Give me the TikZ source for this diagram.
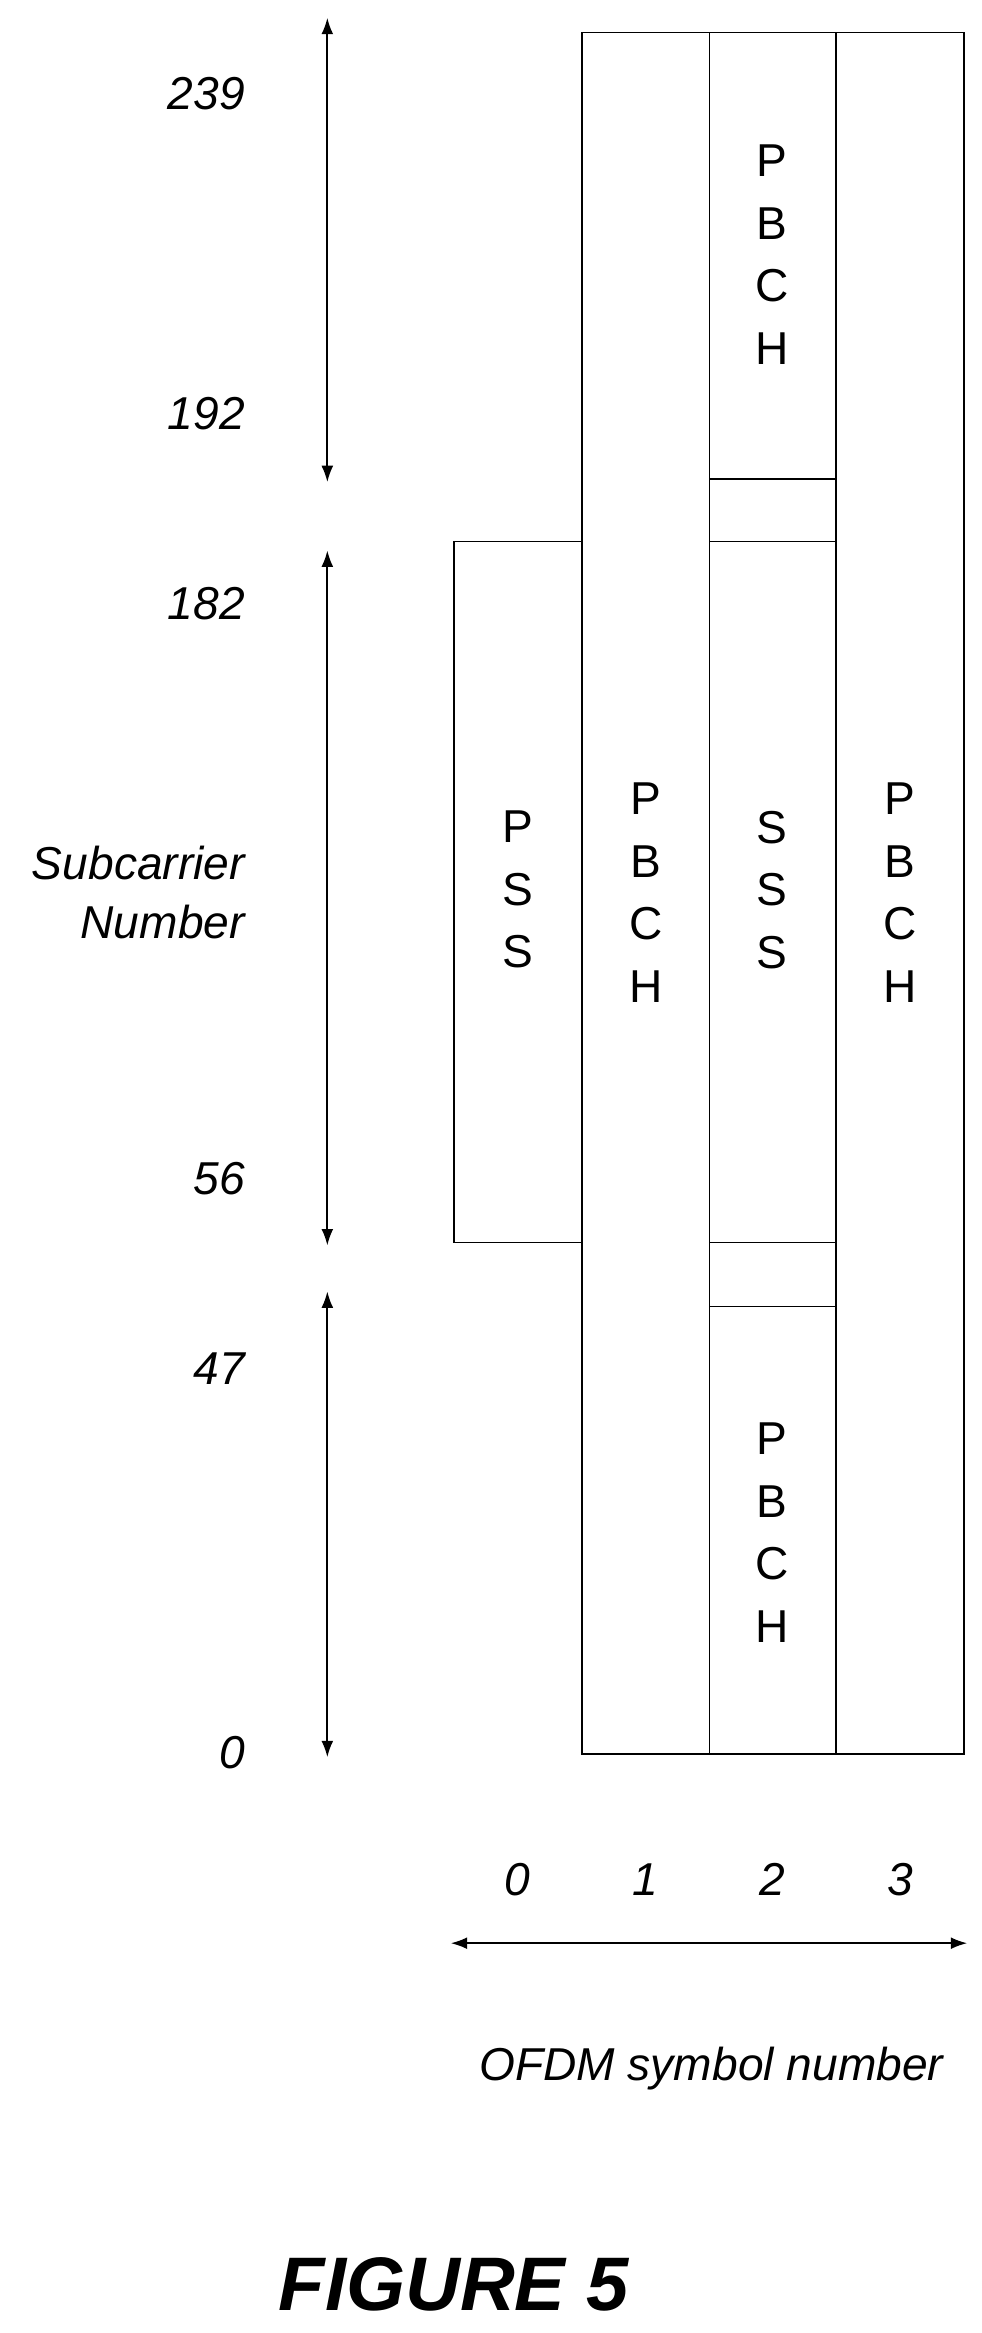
\documentclass[tikz,border=0pt]{standalone}
\usepackage{fontspec}
\setmainfont{Liberation Sans}
\usetikzlibrary{arrows.meta}
\begin{document}
\begin{tikzpicture}[x=1pt,y=-1pt,
  box/.style={draw,line width=1pt,fill=white},
  lt/.style={align=center,font=\fontsize{31}{42}\selectfont},
  num/.style={anchor=east,font=\fontsize{31}{40}\selectfont\itshape},
  arr/.style={{Latex[length=11pt,width=8pt]}-{Latex[length=11pt,width=8pt]},line width=1.2pt}]
\useasboundingbox (0,0) rectangle (660,1568);
\draw[box] (305,364) rectangle (391,835);
\draw[box] (391,22) rectangle (477,1179);
\draw[box] (477,22) rectangle (562,1179);
\draw[box] (562,22) rectangle (648,1179);
\draw[line width=1pt] (477,322) -- (562,322) (477,364) -- (562,364) (477,835) -- (562,835) (477,878) -- (562,878);
\node[lt] (pbt) at (519,171) {P\\B\\C\\H};
\node[lt] (pss) at (348,598) {P\\S\\S};
\node[lt] (pb1) at (434,600) {P\\B\\C\\H};
\node[lt] (sss) at (519,598) {S\\S\\S};
\node[lt] (pb3) at (605,600) {P\\B\\C\\H};
\node[lt] (pbb) at (519,1030) {P\\B\\C\\H};
\coordinate (a1) at (220,12); \coordinate (a2) at (220,324);
\coordinate (b1) at (220,370); \coordinate (b2) at (220,837);
\coordinate (c1) at (220,868); \coordinate (c2) at (220,1181);
\draw[arr] (a1) -- (a2); \draw[arr] (b1) -- (b2); \draw[arr] (c1) -- (c2);
\node[num] (n239) at (168,63) {239};
\node[num] (n192) at (168,278) {192};
\node[num] (n182) at (168,406) {182};
\node[num,align=right] (sn) at (168,600) {Subcarrier\\Number};
\node[num] (n56) at (168,792) {56};
\node[num] (n47) at (168,920) {47};
\node[num] (n0) at (168,1178) {0};
\node[num,anchor=center] (s0) at (348,1263) {0};
\node[num,anchor=center] (s1) at (434,1263) {1};
\node[num,anchor=center] (s2) at (519,1263) {2};
\node[num,anchor=center] (s3) at (605,1263) {3};
\coordinate (d1) at (303,1306); \coordinate (d2) at (650,1306);
\draw[arr] (d1) -- (d2);
\node[num,anchor=center] (ofdm) at (478,1390) {OFDM symbol number};
\node[font=\fontsize{51}{56}\selectfont\bfseries\itshape] (fig) at (305,1535) {FIGURE 5};
\end{tikzpicture}
\end{document}
